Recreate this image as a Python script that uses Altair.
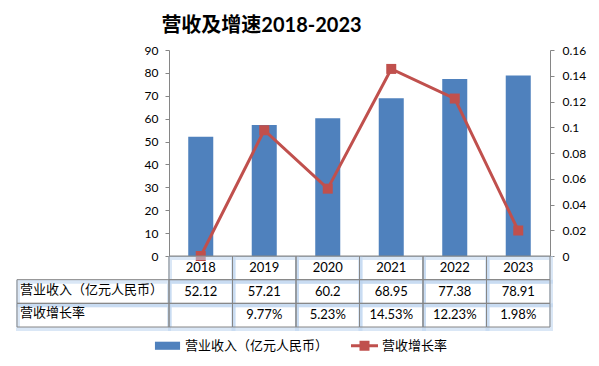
import altair as alt
import pandas as pd

# ---- data ----
years = ["2018", "2019", "2020", "2021", "2022", "2023"]
revenue = [52.12, 57.21, 60.2, 68.95, 77.38, 78.91]
growth = [0.0, 0.0977, 0.0523, 0.1453, 0.1223, 0.0198]
growth_text = ["", "9.77%", "5.23%", "14.53%", "12.23%", "1.98%"]
row_names = ["年份", "营业收入（亿元人民币）", "营收增长率"]
bar_name = "营业收入（亿元人民币）"
line_name = "营收增长率"
left_ticks = [0, 10, 20, 30, 40, 50, 60, 70, 80, 90]
right_ticks = [0, 0.02, 0.04, 0.06, 0.08, 0.1, 0.12, 0.14, 0.16]

BLUE = "#4F81BD"
RED = "#C0504D"
GRAY = "#868686"
FONT = "Lato, 'Noto Sans CJK SC'"

bar_df = pd.DataFrame({"year": years, "revenue": revenue, "series": bar_name})
line_df = pd.DataFrame({"year": years, "growth": growth, "series": line_name})

x_main = alt.X("year:N", sort=years,
               scale=alt.Scale(paddingInner=0.606, paddingOuter=0.303),
               axis=alt.Axis(title=None, labels=False, ticks=False, domainColor=GRAY))

color_scale = alt.Scale(domain=[bar_name, line_name], range=[BLUE, RED])

shape_expr = ("datum.value == '" + line_name + "' ? "
              "'M-1,-0.11H1V0.11H-1ZM-0.37,-0.37H0.37V0.37H-0.37Z' : "
              "'M-0.93,-0.3H0.93V0.3H-0.93Z'")
fill_expr = "datum.value == '" + line_name + "' ? '" + RED + "' : '" + BLUE + "'"

legend = alt.Legend(
    title=None, orient="none", legendX=-15, legendY=282, direction="horizontal",
    symbolSize=729, labelFont=FONT, labelFontSize=13, labelColor="#000",
    columnPadding=22, labelOffset=4,
    symbolType={"expr": shape_expr},
    symbolFillColor={"expr": fill_expr},
    symbolStrokeWidth=0,
    symbolOpacity=1,
)

bars = alt.Chart(bar_df).mark_bar().encode(
    x=x_main,
    y=alt.Y("revenue:Q", scale=alt.Scale(domain=[0, 90], nice=False),
            axis=alt.Axis(title=None, values=left_ticks, grid=False, domainColor=GRAY,
                          tickColor=GRAY, tickSize=4, labelFont=FONT, labelFontSize=12,
                          labelColor="#000", labelPadding=7)),
    color=alt.Color("series:N", scale=color_scale, legend=legend),
)

y_right = alt.Y("growth:Q", scale=alt.Scale(domain=[0, 0.16], nice=False),
                axis=alt.Axis(title=None, orient="right", values=right_ticks, format="~g",
                              grid=False, domainColor=GRAY, tickColor=GRAY, tickSize=4,
                              labelFont=FONT, labelFontSize=12, labelColor="#000",
                              labelPadding=8))

line = alt.Chart(line_df).mark_line(strokeWidth=3).encode(
    x=x_main, y=y_right,
    color=alt.Color("series:N", scale=color_scale, legend=legend),
)
points = alt.Chart(line_df).mark_point(shape="square", filled=True, size=100, opacity=1).encode(
    x=x_main, y=y_right,
    color=alt.Color("series:N", scale=color_scale, legend=legend),
)

main = alt.layer(bars, alt.layer(line, points)).resolve_scale(y="independent").properties(
    width=381, height=206,
    title=alt.TitleParams(text="营收及增速2018-2023", font=FONT, fontSize=20,
                          fontWeight="bold", color="#000", anchor="middle", dx=-98, offset=8),
)

# ---- table ----
cells = []
for i, yr in enumerate(years):
    cells.append({"year": yr, "row": row_names[0], "text": yr})
    cells.append({"year": yr, "row": row_names[1], "text": str(revenue[i])})
    cells.append({"year": yr, "row": row_names[2], "text": growth_text[i]})
tdf = pd.DataFrame(cells)
ldf = pd.DataFrame({"row": row_names[1:]})

tx = alt.X("year:N", sort=years, scale=alt.Scale(paddingInner=0, paddingOuter=0), axis=None)
ty = alt.Y("row:N", sort=row_names, scale=alt.Scale(paddingInner=0, paddingOuter=0), axis=None)

glow_cells = alt.Chart(tdf).mark_rect(fillOpacity=0, stroke="#bcd4ee", strokeWidth=4,
                                      strokeOpacity=0.55, xOffset=1, yOffset=2).encode(x=tx, y=ty)
grid_cells = alt.Chart(tdf).mark_rect(fillOpacity=0, stroke=GRAY, strokeWidth=1).encode(x=tx, y=ty)
glow_labels = alt.Chart(ldf).mark_rect(fillOpacity=0, stroke="#bcd4ee", strokeWidth=4,
                                       strokeOpacity=0.55, xOffset=1, yOffset=2).encode(
    x=alt.value(-152), x2=alt.value(0), y=ty)
grid_labels = alt.Chart(ldf).mark_rect(fillOpacity=0, stroke=GRAY, strokeWidth=1).encode(
    x=alt.value(-152), x2=alt.value(0), y=ty)
cell_text = alt.Chart(tdf).mark_text(font=FONT, fontSize=13, color="#000").encode(
    x=tx, y=ty, text="text:N")
label_text = alt.Chart(ldf).mark_text(font=FONT, fontSize=13, color="#000", align="left",
                                      dy=-2).encode(
    x=alt.value(-149), y=ty, text="row:N")

table = alt.layer(glow_cells, glow_labels, grid_cells, grid_labels, cell_text, label_text).properties(
    width=381, height=71)

chart = alt.vconcat(main, table, spacing=0, bounds="flush").configure_view(stroke=None).properties(
    padding={"left": 8, "top": 8, "right": 5, "bottom": 5})

chart.save("out.html", embed_options={"renderer": "svg", "actions": False})
